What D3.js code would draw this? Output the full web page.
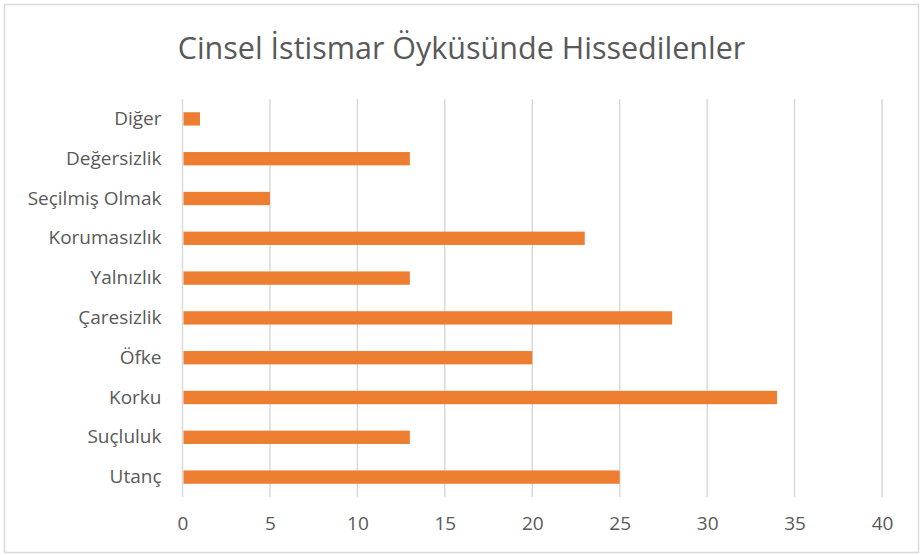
<!DOCTYPE html>
<html>
<head>
<meta charset="utf-8">
<script src="https://cdn.jsdelivr.net/npm/d3@7"></script>
<style>
  body { margin: 0; background: #fff; }
  text { font-family: "Open Sans", sans-serif; fill: #595959; }
</style>
</head>
<body>
<script>
var width = 921,
    height = 555;

// data, top to bottom as drawn
var categories = ["Diğer", "Değersizlik", "Seçilmiş Olmak", "Korumasızlık", "Yalnızlık",
                  "Çaresizlik", "Öfke", "Korku", "Suçluluk", "Utanç"];
var values = [1, 13, 5, 23, 13, 28, 20, 34, 13, 25];
var xTicks = [0, 5, 10, 15, 20, 25, 30, 35, 40];
var title = "Cinsel İstismar Öyküsünde Hissedilenler";

var svg = d3.select('body')
    .append('svg')
    .attr('width', width)
    .attr('height', height);

// chart border
svg.append('rect')
    .attr('x', 4.5).attr('y', 4.5)
    .attr('width', 914).attr('height', 548)
    .attr('fill', '#fff')
    .attr('stroke', '#d9d9d9')
    .attr('stroke-width', 1.5);

svg.append('text')
    .attr('x', 461.5)
    .attr('y', 59)
    .attr('text-anchor', 'middle')
    .style('font-size', '30.5px')
    .text(title);

var x = d3.scaleLinear().domain([0, 40]).range([182.5, 882]);
var y = d3.scaleBand().domain(categories).range([99, 497]).paddingInner(0.665).paddingOuter(0.3325);

// gridlines
svg.append('g')
    .selectAll('line')
    .data(xTicks)
    .enter().append('line')
      .attr('x1', function(d) { return x(d); })
      .attr('x2', function(d) { return x(d); })
      .attr('y1', 99)
      .attr('y2', 497)
      .attr('stroke', '#d9d9d9')
      .attr('stroke-width', 1.5);

// bars
svg.append('g')
    .selectAll('rect')
    .data(values)
    .enter().append('rect')
      .attr('x', x(0) + 1)
      .attr('y', function(d, i) { return y(categories[i]); })
      .attr('width', function(d) { return x(d) - x(0) - 1; })
      .attr('height', y.bandwidth())
      .attr('fill', '#ed7d31');

// category labels
var yAxis = svg.append('g')
    .attr('transform', 'translate(' + x(0) + ',0)')
    .call(d3.axisLeft(y).tickSize(0).tickPadding(21));
yAxis.select('.domain').remove();
yAxis.selectAll('text')
    .style('font-size', '19px')
    .attr('fill', '#595959');

// value labels
var xAxis = svg.append('g')
    .attr('transform', 'translate(0,497)')
    .call(d3.axisBottom(x).tickValues(xTicks).tickSize(0).tickPadding(20));
xAxis.select('.domain').remove();
xAxis.selectAll('text')
    .style('font-size', '19px')
    .attr('fill', '#595959');
</script>
</body>
</html>
